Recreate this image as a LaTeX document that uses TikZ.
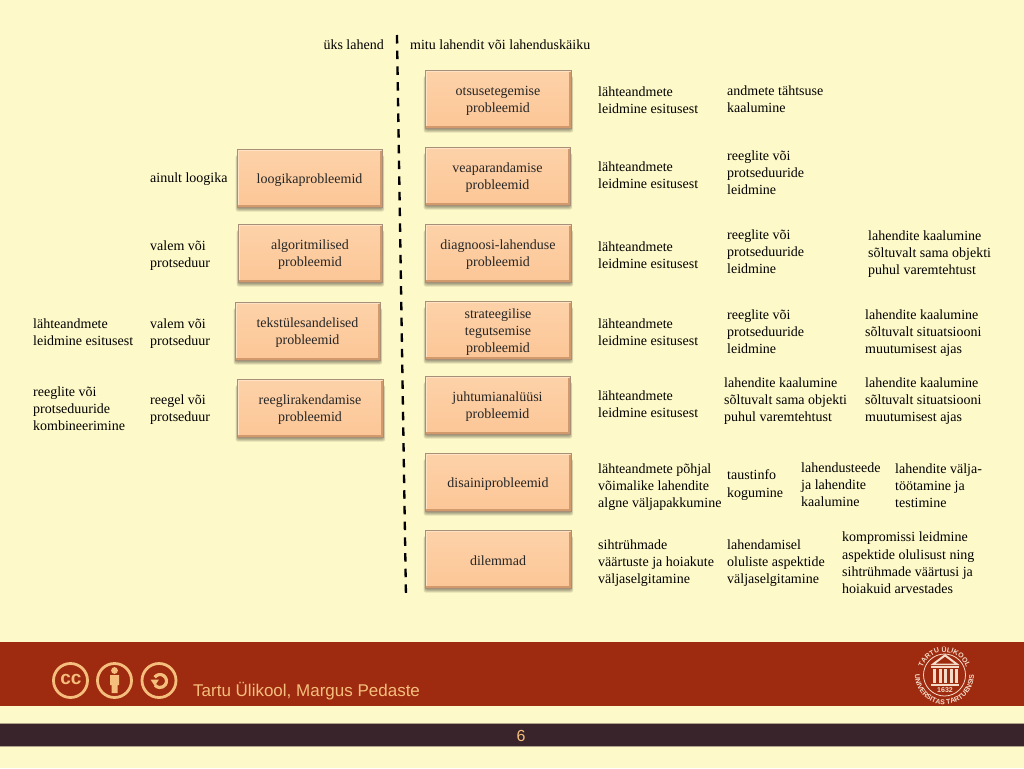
\documentclass[tikz,border=0pt]{standalone}
\usepackage{fontspec}
\setmainfont{Liberation Serif}
\newfontfamily\footfont{Liberation Sans}
\usetikzlibrary{decorations.text}
\definecolor{bgc}{HTML}{FEF9C8}
\definecolor{redc}{HTML}{9E2A10}
\definecolor{darkc}{HTML}{38242A}
\definecolor{iconc}{HTML}{F5BE7C}
\definecolor{sealc}{HTML}{F5DCC8}
\definecolor{boxtop}{HTML}{FDD2A8}
\definecolor{boxbot}{HTML}{FCC697}
\definecolor{boxline}{HTML}{A89078}
\definecolor{bevlight}{HTML}{FEE2C4}
\definecolor{bevdark}{HTML}{D29A6C}
\tikzset{
 x=1pt,y=-1pt,
 lbl/.style={anchor=west,align=left,inner sep=0pt,text=black,font=\fontsize{14}{17.2}\selectfont},
 prob/.style={rectangle,draw=boxline,line width=0.7pt,top color=boxtop,bottom color=boxbot,inner sep=0pt},
 probtxt/.style={align=center,inner sep=0pt,text=black!85,font=\fontsize{14}{17.2}\selectfont},
 softshade/.style={fill=black,fill opacity=0.11,rounded corners=2pt},
 bevelhi/.style={draw=bevlight,line width=1pt},
 bevello/.style={draw=bevdark,line width=1.3pt},
 divider/.style={line width=2.3pt,draw=black,dash pattern=on 8.5pt off 7.2pt},
 icon/.style={draw=iconc,line width=2.8pt,fill=none},
 sealtxt/.style={text=sealc,inner sep=0pt,font=\footfont\bfseries\fontsize{7}{7}\selectfont},
}
\newcommand{\prb}[6]{%
 \foreach \s in {3,2,1,0}{\path[softshade] ({#2-0.6*\s+0.5},{#3+6}) rectangle ({#4+0.6*\s+0.3},{#5+\s+1.5});}
 \node[prob,minimum width=#4 pt-#2 pt,minimum height=#5 pt-#3 pt] (#1) at ({(#2+#4)/2},{(#3+#5)/2}) {};
 \draw[bevelhi] ({#2+1},{#5-2}) -- ({#2+1},{#3+1}) -- ({#4-1},{#3+1});
 \draw[bevello] ({#2+1},{#5-1}) -- ({#4-1},{#5-1}) -- ({#4-1},{#3+2});
 \node[probtxt] (#1t) at ({(#2+#4)/2},{(#3+#5)/2+2}) {#6};
}
\begin{document}
\begin{tikzpicture}
\useasboundingbox (0,0) rectangle (1024,768);
\fill[bgc] (0,0) rectangle (1024,768);
% footer bands
\fill[redc] (0,642) rectangle (1024,706);
\fill[darkc] (0,723) rectangle (1024,746);
\draw[bgc!60!darkc,line width=0.6pt] (0,723) -- (1024,723) (0,746) -- (1024,746);
% divider
\coordinate (divtop) at (397,35);
\coordinate (divbot) at (406,598);
\draw[divider] (divtop) -- (divbot);
\node[lbl,anchor=east] (one) at (384,45) {üks lahend};
\node[lbl] (many) at (410,45) {mitu lahendit või lahenduskäiku};
% right column boxes
\prb{b1}{425}{70}{571}{128}{otsusetegemise\\probleemid}
\prb{b2}{425}{147}{570}{205}{veaparandamise\\probleemid}
\prb{b3}{425}{224}{571}{282}{diagnoosi-lahenduse\\probleemid}
\prb{b4}{425}{301}{571}{359}{strateegilise\\tegutsemise\\probleemid}
\prb{b5}{425}{376}{570}{434}{juhtumianalüüsi\\probleemid}
\prb{b6}{425}{453}{571}{511}{disainiprobleemid}
\prb{b7}{425}{530}{571}{588}{dilemmad}
% left column boxes
\prb{a1}{237}{149}{382}{207}{loogikaprobleemid}
\prb{a2}{238}{224}{382}{282}{algoritmilised\\probleemid}
\prb{a3}{235}{302}{380}{360}{tekstülesandelised\\probleemid}
\prb{a4}{237}{379}{383}{437}{reeglirakendamise\\probleemid}
% left labels
\node[lbl] (l1) at (150,179) {ainult loogika};
\node[lbl] (l2) at (150,256) {valem või\\protseduur};
\node[lbl] (l3) at (150,334) {valem või\\protseduur};
\node[lbl] (l4) at (33,332) {lähteandmete\\leidmine esitusest};
\node[lbl] (l5) at (150,410) {reegel või\\protseduur};
\node[lbl] (l6) at (33,409) {reeglite või\\protseduuride\\kombineerimine};
% right labels
\node[lbl] (r11) at (598,100) {lähteandmete\\leidmine esitusest};
\node[lbl] (r12) at (727,99) {andmete tähtsuse\\kaalumine};
\node[lbl] (r21) at (598,175) {lähteandmete\\leidmine esitusest};
\node[lbl] (r22) at (727,173) {reeglite või\\protseduuride\\leidmine};
\node[lbl] (r31) at (598,255) {lähteandmete\\leidmine esitusest};
\node[lbl] (r32) at (727,252) {reeglite või\\protseduuride\\leidmine};
\node[lbl] (r33) at (868,254) {lahendite kaalumine\\sõltuvalt sama objekti\\puhul varemtehtust};
\node[lbl] (r41) at (598,332) {lähteandmete\\leidmine esitusest};
\node[lbl] (r42) at (727,332) {reeglite või\\protseduuride\\leidmine};
\node[lbl] (r43) at (865,333) {lahendite kaalumine\\sõltuvalt situatsiooni\\muutumisest ajas};
\node[lbl] (r51) at (598,404.5) {lähteandmete\\leidmine esitusest};
\node[lbl] (r52) at (724,401) {lahendite kaalumine\\sõltuvalt sama objekti\\puhul varemtehtust};
\node[lbl] (r53) at (865,401) {lahendite kaalumine\\sõltuvalt situatsiooni\\muutumisest ajas};
\node[lbl] (r61) at (598,487) {lähteandmete põhjal\\võimalike lahendite\\algne väljapakkumine};
\node[lbl] (r62) at (727,485) {taustinfo\\kogumine};
\node[lbl] (r63) at (801,485) {lahendusteede\\ja lahendite\\kaalumine};
\node[lbl] (r64) at (895,486) {lahendite välja-\\töötamine ja\\testimine};
\node[lbl] (r71) at (598,563) {sihtrühmade\\väärtuste ja hoiakute\\väljaselgitamine};
\node[lbl] (r72) at (727,563) {lahendamisel\\oluliste aspektide\\väljaselgitamine};
\node[lbl] (r73) at (842,563) {kompromissi leidmine\\aspektide olulisust ning\\sihtrühmade väärtusi ja\\hoiakuid arvestades};
% cc icons
\draw[icon] (70.5,680.5) circle (17);
\node[text=iconc,inner sep=0pt,font=\footfont\bfseries\fontsize{19}{19}\selectfont] (cc) at (71,679.5) {cc};
\draw[icon] (114.5,680.5) circle (17);
\fill[iconc] (114.5,670.5) circle (3.4);
\fill[iconc] (110,675) rectangle (119,685) (111.5,685) rectangle (117.5,693);
\draw[icon] (159,680.5) circle (17);
\draw[iconc,line width=3.2pt] (160,681) ++(215:6.5) arc[start angle=215,end angle=500,radius=6.5];
\fill[iconc] (150.5,679.5) -- (159,679.5) -- (154.8,686) -- cycle;
\node[anchor=west,inner sep=0pt,text=iconc,font=\footfont\fontsize{17}{17}\selectfont] (author) at (193,691) {Tartu Ülikool, Margus Pedaste};
\node[text=iconc,inner sep=0pt,font=\footfont\fontsize{16}{16}\selectfont] (page) at (521,736) {6};
% university seal
\coordinate (seal) at (944.5,675);
\draw[sealc,line width=0.8pt] (seal) circle (21);
\path[postaction={decorate,decoration={text along path,text align=center,
  text={|\footfont\bfseries\fontsize{7}{7}\selectfont\color{sealc}|TARTU ÜLIKOOL}}}]
  (seal) ++(200:23) arc[start angle=200,end angle=340,radius=23];
\path[postaction={decorate,decoration={text along path,text align=center,
  text={|\footfont\bfseries\fontsize{7}{7}\selectfont\color{sealc}|UNIVERSITAS TARTUENSIS}}}]
  (seal) ++(190:29.5) arc[start angle=190,end angle=-10,radius=29.5];
\fill[sealc] (930.5,665) -- (945,654) -- (959.5,665) -- cycle;
\fill[redc] (936,663.5) -- (945,656.8) -- (954,663.5) -- cycle;
\fill[sealc] (931,666) rectangle (959,668);
\foreach \px in {933,938.5,944,949.5,955}{\fill[sealc] (\px,668.5) rectangle (\px+3,683);}
\fill[sealc] (931,683.5) rectangle (959,685.5);
\node[sealtxt] (year) at (945,690.5) {1632};
\end{tikzpicture}
\end{document}
